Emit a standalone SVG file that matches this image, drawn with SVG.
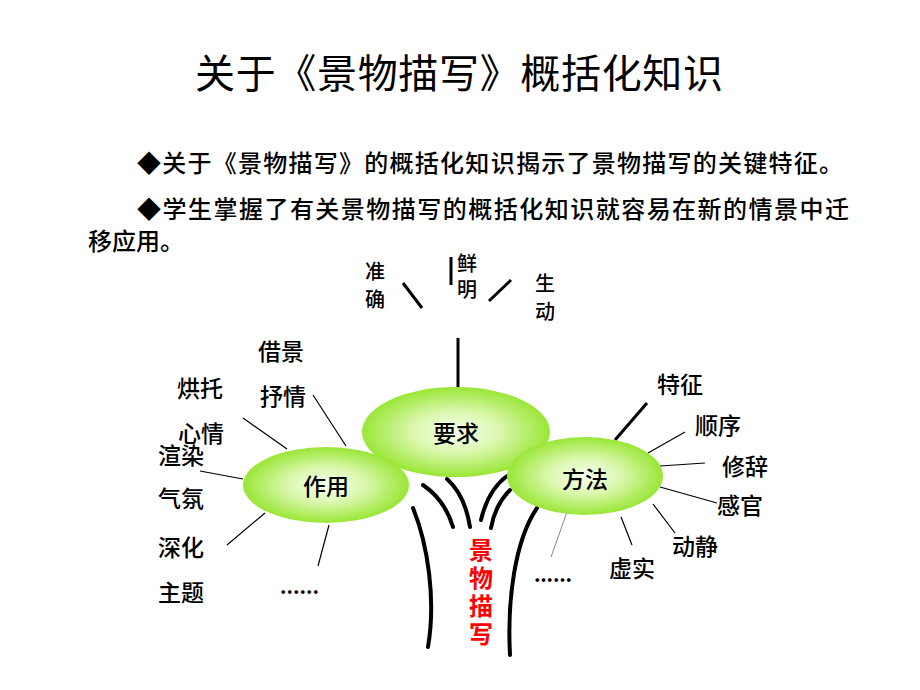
<svg xmlns="http://www.w3.org/2000/svg" width="920" height="690" viewBox="0 0 920 690">
<defs>
<radialGradient id="g" cx="50%" cy="50%" r="50%">
<stop offset="0" stop-color="#f6fff0"/>
<stop offset="0.45" stop-color="#dcf8b0"/>
<stop offset="1" stop-color="#9ae636"/>
</radialGradient>
<style>
text{font-family:"Noto Sans CJK SC","Noto Sans",sans-serif;fill:#000}
.t{font-size:40px}
.b{font-size:24px;font-weight:500}
.l{font-size:23px;font-weight:500}
.s{font-size:20px;font-weight:500;writing-mode:vertical-rl;text-orientation:upright}
.n{font-size:23px;font-weight:500;text-anchor:middle}
.r{font-size:24px;font-weight:bold;fill:#ff0000;writing-mode:vertical-rl;text-orientation:upright;letter-spacing:4px}
.thick{stroke:#000;stroke-width:3;fill:none}
.thin{stroke:#000;stroke-width:1.2;fill:none}
.gray{stroke:#888;stroke-width:1;fill:none}
.trunk{stroke:#000;stroke-width:4;fill:none;stroke-linecap:round}
.dots{font-size:20px;font-weight:bold}
</style>
</defs>
<rect width="920" height="690" fill="#fff"/>
<text class="t" x="195" y="88" textLength="528">关于《景物描写》概括化知识</text>
<text class="b" x="137" y="172" textLength="706">◆关于《景物描写》的概括化知识揭示了景物描写的关键特征。</text>
<text class="b" x="137" y="218" textLength="712">◆学生掌握了有关景物描写的概括化知识就容易在新的情景中迁</text>
<text class="b" x="88" y="250">移应用。</text>

<g id="connectors">
<path class="trunk" d="M413,508 C428,545 436,600 428,647"/>
<path class="trunk" d="M423,485 Q445,500 453,527"/>
<path class="trunk" d="M447,479 Q465,495 470,527"/>
<path class="trunk" d="M507,476 Q488,490 481,520"/>
<path class="trunk" d="M510,490 Q495,505 491,528"/>
<path class="trunk" d="M537,508 C515,540 507,600 510,655"/>
<line class="thick" x1="403" y1="283" x2="422" y2="308"/>
<line class="thick" x1="451" y1="257" x2="451" y2="285"/>
<line class="thick" x1="489" y1="301" x2="511" y2="280"/>
<line class="thick" x1="458" y1="338" x2="458" y2="388"/>
<line class="thin" x1="313" y1="395" x2="346" y2="446"/>
<line class="thin" x1="243" y1="418" x2="287" y2="449"/>
<line class="thin" x1="200" y1="471" x2="243" y2="479"/>
<line class="thin" x1="227" y1="545" x2="265" y2="513"/>
<line class="thin" x1="318" y1="566" x2="329" y2="525"/>
<line class="thick" x1="647" y1="403" x2="615" y2="440"/>
<line class="thin" x1="685" y1="432" x2="648" y2="453"/>
<line class="thin" x1="705" y1="463" x2="660" y2="466"/>
<line class="thin" x1="717" y1="503" x2="660" y2="487"/>
<line class="thin" x1="675" y1="533" x2="653" y2="504"/>
<line class="thin" x1="632" y1="545" x2="621" y2="517"/>
<line class="gray" x1="551" y1="557" x2="567" y2="512"/>
</g>

<g id="yaoqiu">
<ellipse cx="456" cy="432" rx="94" ry="45" fill="url(#g)"/>
<text class="n" x="456" y="442">要求</text>
</g>
<g id="zuoyong">
<ellipse cx="326" cy="485" rx="83" ry="38" fill="url(#g)"/>
<text class="n" x="326" y="495">作用</text>
</g>
<g id="fangfa">
<ellipse cx="585" cy="476" rx="78" ry="39" fill="url(#g)"/>
<text class="n" x="585" y="488">方法</text>
</g>

<g id="zhunque"><text class="s" x="375" y="261" letter-spacing="8">准确</text></g>
<g id="xianming"><text class="s" x="467" y="253" letter-spacing="6">鲜明</text></g>
<g id="shengdong"><text class="s" x="545" y="273" letter-spacing="8">生动</text></g>
<g id="jiejing"><text class="l" x="258" y="360">借景</text></g>
<g id="shuqing"><text class="l" x="260" y="405">抒情</text></g>
<g id="hongtuo"><text class="l" x="177" y="397">烘托</text></g>
<g id="xinqing"><text class="l" x="178" y="442">心情</text></g>
<g id="xuanran"><text class="l" x="158" y="464">渲染</text></g>
<g id="qifen"><text class="l" x="158" y="507">气氛</text></g>
<g id="shenhua"><text class="l" x="158" y="556">深化</text></g>
<g id="zhuti"><text class="l" x="158" y="601">主题</text></g>
<g id="dots1"><text class="dots" x="280" y="594" textLength="39">......</text></g>
<g id="tezheng"><text class="l" x="657" y="393">特征</text></g>
<g id="shunxu"><text class="l" x="695" y="434">顺序</text></g>
<g id="xiuci"><text class="l" x="722" y="475">修辞</text></g>
<g id="ganguan"><text class="l" x="717" y="514">感官</text></g>
<g id="dongjing"><text class="l" x="672" y="555">动静</text></g>
<g id="xushi"><text class="l" x="609" y="577">虚实</text></g>
<g id="dots2"><text class="dots" x="534" y="582" textLength="38">......</text></g>
<g id="jingwu"><text class="r" x="481" y="538">景物描写</text></g>
</svg>
